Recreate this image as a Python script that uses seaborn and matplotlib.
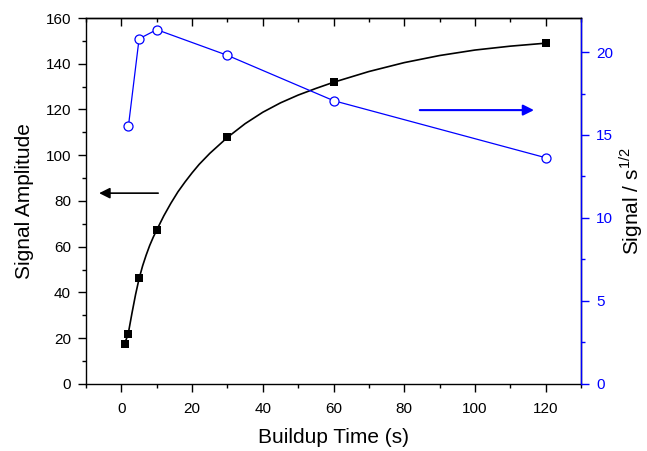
import numpy as np
import pandas as pd
import matplotlib
matplotlib.use("Agg")
import matplotlib.pyplot as plt
from matplotlib.ticker import MultipleLocator
import seaborn as sns

# measured signal amplitude vs buildup time
buildup_time = [1, 2, 5, 10, 30, 60, 120]
amplitude = [17.5, 21.7, 46.3, 67.3, 107.8, 131.9, 148.9]

# fitted curve
fit_time = [1, 1.5, 2, 3, 4, 5, 6, 7, 8, 9, 10, 12, 14, 16, 18, 20, 22, 25,
            30, 35, 40, 45, 50, 55, 60, 70, 80, 90, 100, 110, 120]
fit_amp = [18.0, 20.0, 22.5, 31.0, 39.0, 46.0, 51.6, 56.3, 60.5, 64.1, 67.3,
           73.5, 79.0, 84.0, 88.3, 92.3, 96.0, 100.8, 107.8, 113.8, 118.8,
           122.9, 126.3, 129.2, 131.9, 136.6, 140.5, 143.6, 146.0, 147.7, 149.0]

# signal divided by sqrt(time)
norm_time = [2, 5, 10, 30, 60, 120]
norm_signal = [15.56, 20.8, 21.35, 19.8, 17.07, 13.63]

BLUE = "#0000ff"

sns.set_style("ticks")
plt.rcParams["font.family"] = ["Liberation Sans", "DejaVu Sans"]
plt.rcParams["mathtext.fontset"] = "custom"
plt.rcParams["mathtext.rm"] = "Liberation Sans"
plt.rcParams["text.color"] = "black"
plt.rcParams["axes.labelcolor"] = "black"
plt.rcParams["xtick.color"] = "black"
plt.rcParams["ytick.color"] = "black"

fig, ax = plt.subplots(figsize=(6.47, 4.51), dpi=100)
fig.subplots_adjust(left=0.133, right=0.898, bottom=0.149, top=0.960)

fit_df = pd.DataFrame({"t": fit_time, "a": fit_amp})
sns.lineplot(data=fit_df, x="t", y="a", ax=ax, color="black", linewidth=1.2,
             estimator=None, sort=True)
sns.scatterplot(x=buildup_time, y=amplitude, ax=ax, marker="s", color="black",
                s=38, edgecolor="black", linewidth=0, zorder=3)

ax.set_xlim(-10, 130)
ax.set_ylim(0, 160)
ax.xaxis.set_major_locator(MultipleLocator(20))
ax.xaxis.set_minor_locator(MultipleLocator(10))
ax.yaxis.set_major_locator(MultipleLocator(20))
ax.yaxis.set_minor_locator(MultipleLocator(10))
ax.set_xlabel("Buildup Time (s)", fontsize=15, labelpad=9)
ax.set_ylabel("Signal Amplitude", fontsize=15, labelpad=8)
ax.tick_params(axis="both", which="major", direction="out", length=5.8, width=1,
               labelsize=11, color="black", labelcolor="black")
ax.tick_params(axis="both", which="minor", direction="out", length=3.2, width=1)
ax.tick_params(axis="x", which="major", pad=7)
ax.tick_params(axis="y", which="major", pad=5)
for sp in ax.spines.values():
    sp.set_linewidth(1.0)
    sp.set_color("black")

ax.annotate("", xy=(-6.3, 83.4), xytext=(10.4, 83.4),
            arrowprops=dict(arrowstyle="-|>", color="black", lw=1.2,
                            mutation_scale=16, shrinkA=0, shrinkB=0))

ax2 = ax.twinx()
norm_df = pd.DataFrame({"t": norm_time, "s": norm_signal})
sns.lineplot(data=norm_df, x="t", y="s", ax=ax2, color=BLUE, linewidth=0.9,
             marker="o", markersize=6.5, markerfacecolor="white",
             markeredgecolor=BLUE, markeredgewidth=0.9, estimator=None)
ax2.set_ylim(0, 22.05)
ax2.yaxis.set_major_locator(MultipleLocator(5))
ax2.yaxis.set_minor_locator(MultipleLocator(2.5))
ax2.set_ylabel(r"Signal / s$^{\mathregular{1/2}}$", fontsize=15, labelpad=3,
               color="black")
ax2.tick_params(axis="y", which="major", direction="out", length=5.8, width=1,
                labelsize=11, colors=BLUE, pad=5)
ax2.tick_params(axis="y", which="minor", direction="out", length=3.2, width=1,
                colors=BLUE)
ax2.spines["right"].set_color(BLUE)
ax2.spines["right"].set_linewidth(1.0)
ax2.spines["left"].set_visible(False)
ax2.spines["top"].set_linewidth(1.0)
ax2.spines["top"].set_color("black")
ax2.spines["bottom"].set_visible(False)
ax2.set_xlabel("")

ax2.annotate("", xy=(116.7, 16.5), xytext=(84.4, 16.5),
             arrowprops=dict(arrowstyle="-|>", color=BLUE, lw=1.5,
                             mutation_scale=16, shrinkA=0, shrinkB=0))

# top ticks pointing inward
ax.tick_params(axis="x", which="both", top=True, labeltop=False)
for t in ax.xaxis.get_major_ticks() + ax.xaxis.get_minor_ticks():
    t.tick2line.set_marker(3)

fig.savefig("out.png", dpi=100)
